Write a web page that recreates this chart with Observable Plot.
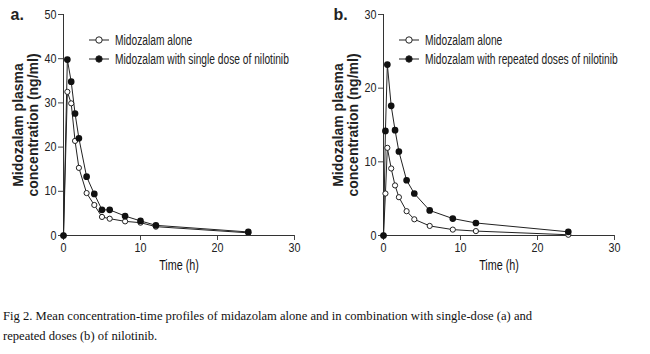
<!DOCTYPE html>
<html>
<head>
<meta charset="utf-8">
<script src="https://cdn.jsdelivr.net/npm/d3@7"></script>
<script src="https://cdn.jsdelivr.net/npm/@observablehq/plot@0.6"></script>
<style>
  body { margin: 0; background: white; width: 650px; height: 354px; overflow: hidden; }
  #row { display: flex; }
  #caption { font-family: "Liberation Serif", "Times New Roman", serif; font-size: 12.6px; line-height: 20px; color: #111; padding: 16px 0 0 3px; }
</style>
</head>
<body>
<div id="row"><div id="a"></div><div id="b"></div></div>
<div id="caption">Fig 2. Mean concentration-time profiles of midazolam alone and in combination with single-dose (a) and<br>repeated doses (b) of nilotinib.</div>
<script>
// Panel a: single dose
const timeA = [0, 0.5, 1, 1.5, 2, 3, 4, 5, 6, 8, 10, 12, 24];
const aloneA = [0, 32.5, 29.9, 21.4, 15.3, 9.6, 6.9, 4.2, 3.8, 3.2, 2.9, 2.0, 0.6];
const withSingleA = [0, 39.8, 34.8, 27.6, 22.0, 13.3, 9.4, 5.8, 5.8, 4.4, 3.3, 2.3, 0.8];
// Panel b: repeated doses
const timeB = [0, 0.25, 0.5, 1, 1.5, 2, 3, 4, 6, 9, 12, 24];
const aloneB = [0, 5.7, 11.9, 9.1, 6.8, 5.2, 3.3, 2.2, 1.3, 0.8, 0.6, 0.1];
const withRepeatedB = [0, 14.2, 23.2, 17.6, 14.3, 11.4, 7.5, 5.7, 3.4, 2.3, 1.7, 0.5];

const xTicks = [0, 10, 20, 30];
const yTicksA = [0, 10, 20, 30, 40, 50];
const yTicksB = [0, 10, 20, 30];
const legendA = ["Midozalam alone", "Midozalam with single dose of nilotinib"];
const legendB = ["Midozalam alone", "Midozalam with repeated doses of nilotinib"];
const yTitle = "Midozalam plasma\nconcentration (ng/ml)";
const xTitle = "Time (h)";

const sans = "'Liberation Sans', Arial, sans-serif";

function condense(svg, selector, factor) {
  svg.querySelectorAll(selector).forEach(t => {
    const len = t.getComputedTextLength();
    if (len > 0) {
      t.setAttribute("textLength", (len * factor).toFixed(2));
      t.setAttribute("lengthAdjust", "spacingAndGlyphs");
    }
  });
}

function panel({host, label, labelDx, time, alone, withN, yMax, yTicks, legend, width, marginRight, legendX}) {
  const alonePts = time.map((t, i) => ({t, v: alone[i]}));
  const withPts = time.map((t, i) => ({t, v: withN[i]}));
  const svg = Plot.plot({
    width, height: 290,
    marginLeft: 63, marginRight, marginTop: 14, marginBottom: 55,
    x: {domain: [0, 30]},
    y: {domain: [0, yMax]},
    style: {fontFamily: sans, fontSize: "12.5px", color: "#222", background: "white", overflow: "visible"},
    marks: [
      Plot.axisX({ticks: xTicks, tickSize: 5, tickPadding: 3, label: null, fontSize: 12.5, stroke: "#444"}),
      Plot.axisY({ticks: yTicks, tickSize: 5, tickPadding: 2, label: null, fontSize: 12.5, stroke: "#444"}),
      Plot.ruleX([0], {stroke: "#333"}),
      Plot.ruleY([0], {stroke: "#333"}),
      Plot.line(alonePts, {x: "t", y: "v", stroke: "#222", strokeWidth: 1}),
      Plot.line(withPts, {x: "t", y: "v", stroke: "#222", strokeWidth: 1}),
      Plot.dot(alonePts, {x: "t", y: "v", r: 2.6, fill: "white", stroke: "#222", strokeWidth: 1}),
      Plot.dot(withPts, {x: "t", y: "v", r: 2.6, fill: "#111", stroke: "#111"}),
      Plot.text([xTitle], {frameAnchor: "bottom", dy: 34, fontSize: 14, fill: "#111", className: "xtitle"}),
      Plot.text([yTitle], {frameAnchor: "left", rotate: -90, dx: -38, textAnchor: "middle", fontWeight: "bold", fontSize: 14, lineHeight: 1.07, fill: "#222"}),
      Plot.text([label], {frameAnchor: "top-left", dx: labelDx, dy: -6, textAnchor: "start", fontWeight: "bold", fontSize: 16, fill: "#222"})
    ]
  });
  const s = d3.select(svg);
  const g = s.append("g").attr("class", "legend").attr("text-anchor", "start");
  [0, 1].forEach(i => {
    const y = 40 + i * 19;
    g.append("line").attr("x1", legendX).attr("x2", legendX + 20).attr("y1", y).attr("y2", y).attr("stroke", "#222");
    g.append("circle").attr("cx", legendX + 10).attr("cy", y).attr("r", 3.2)
      .attr("fill", i === 0 ? "white" : "#111").attr("stroke", "#222");
    g.append("text").attr("x", legendX + 26).attr("y", y).attr("dy", "0.35em")
      .attr("font-size", 14).attr("fill", "#222").text(legend[i]);
  });
  document.getElementById(host).appendChild(svg);
  condense(svg, "g[aria-label='x-axis tick label'] text, g[aria-label='y-axis tick label'] text", 0.86);
  condense(svg, ".xtitle text", 0.77);
  condense(svg, ".legend text", 0.73);
}

panel({
  host: "a", label: "a.", labelDx: -53, time: timeA, alone: aloneA, withN: withSingleA, yMax: 50, yTicks: yTicksA,
  legend: legendA, width: 320, marginRight: 26, legendX: 89
});
panel({
  host: "b", label: "b.", labelDx: -50, time: timeB, alone: aloneB, withN: withRepeatedB, yMax: 30, yTicks: yTicksB,
  legend: legendB, width: 330, marginRight: 36, legendX: 79
});
</script>
</body>
</html>
